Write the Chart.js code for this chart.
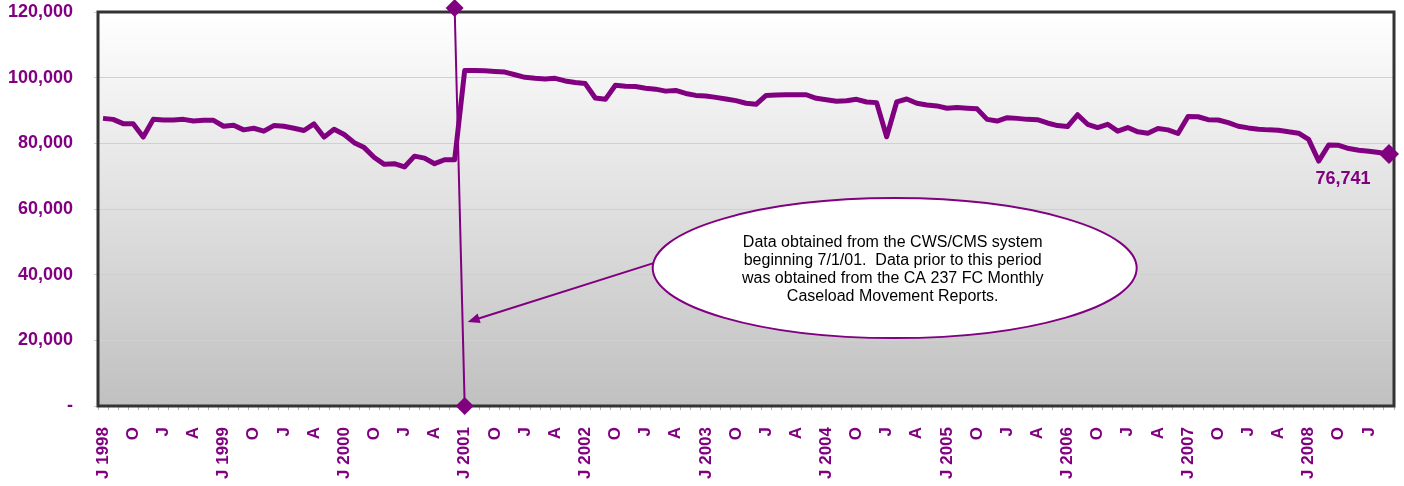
<!DOCTYPE html>
<html>
<head>
<meta charset="utf-8">
<script src="https://cdn.jsdelivr.net/npm/chart.js@4.4.0/dist/chart.umd.min.js"></script>
<style>
  html, body { margin: 0; padding: 0; background: #fff; }
  canvas { display: block; }
</style>
</head>
<body>
<canvas id="caseloadChart" width="1404" height="486"></canvas>
<script>
const purple = '#800080';
const fontFamily = '"Liberation Sans", Arial, sans-serif';

// one category per month, Jul 1998 .. Mar 2009
const monthNames = ['Jan','Feb','Mar','Apr','May','Jun','Jul','Aug','Sep','Oct','Nov','Dec'];
const months = [];
for (let i = 0; i < 129; i++) {
  const m = (6 + i) % 12;
  const yr = 1998 + Math.floor((6 + i) / 12);
  months.push(monthNames[m] + ' ' + yr);
}

// quarterly axis labels (every 3rd month)
const tickLabels = [
  'J 1998','O','J','A', 'J 1999','O','J','A', 'J 2000','O','J','A',
  'J 2001','O','J','A', 'J 2002','O','J','A', 'J 2003','O','J','A',
  'J 2004','O','J','A', 'J 2005','O','J','A', 'J 2006','O','J','A',
  'J 2007','O','J','A', 'J 2008','O','J'
];

// foster care caseload, monthly
const caseload = [
  87600, 87300, 86000, 86000, 81900, 87300, 87100, 87100, 87300, 86800, 87000, 87000,
  85200, 85500, 84100, 84600, 83700, 85400, 85200, 84600, 83900, 85900, 81900, 84300,
  82700, 80200, 78700, 75700, 73600, 73800, 72800, 76100, 75500, 73800, 75000, 75000,
  102200, 102200, 102100, 101900, 101700, 100900, 100100, 99800, 99600, 99800, 99000, 98500,
  98200, 93800, 93400, 97700, 97400, 97300, 96800, 96500, 95900, 96100, 95200, 94600,
  94400, 94000, 93500, 93000, 92200, 91900, 94600, 94700, 94800, 94800, 94800, 93700,
  93300, 92800, 93000, 93400, 92600, 92400, 82000, 92600, 93500, 92200, 91700, 91400,
  90700, 90900, 90700, 90500, 87300, 86800, 87800, 87600, 87300, 87200, 86200, 85400,
  85100, 88700, 85800, 84800, 85800, 83700, 84800, 83500, 83100, 84500, 84100, 83000,
  88200, 88100, 87200, 87100, 86300, 85200, 84700, 84300, 84100, 84000, 83500, 83100,
  81200, 74600, 79500, 79400, 78400, 77900, 77600, 77200, 76741
];

// data source change marker (CWS/CMS from 7/1/01)
const breakMonths = [months[35], months[36]];
const breakValues = [121200, 0];

const calloutLines = [
  'Data obtained from the CWS/CMS system',
  'beginning 7/1/01.  Data prior to this period',
  'was obtained from the CA 237 FC Monthly',
  'Caseload Movement Reports.'
];
const calloutCenter = { index: 78.8, value: 42000 };
const arrowTip = { index: 36, value: 25600 };

const plotFrame = {
  id: 'plotFrame',
  beforeDraw(chart) {
    const { ctx, chartArea: a } = chart;
    const g = ctx.createLinearGradient(0, a.top, 0, a.bottom);
    g.addColorStop(0, '#ffffff');
    g.addColorStop(1, '#c0c0c0');
    ctx.save();
    ctx.fillStyle = g;
    ctx.fillRect(a.left, a.top, a.right - a.left, a.bottom - a.top);
    ctx.restore();
  },
  beforeDatasetsDraw(chart) {
    const { ctx, chartArea: a } = chart;
    ctx.save();
    ctx.strokeStyle = '#333333';
    ctx.lineWidth = 3;
    ctx.strokeRect(a.left, a.top, a.right - a.left, a.bottom - a.top);
    ctx.restore();
  }
};

const callout = {
  id: 'callout',
  afterDatasetsDraw(chart) {
    const { ctx, scales: { x, y } } = chart;
    const cx = x.getPixelForValue(calloutCenter.index);
    const cy = y.getPixelForValue(calloutCenter.value);
    const rx = 242, ry = 70;
    const tx = x.getPixelForValue(arrowTip.index) + 3;
    const ty = y.getPixelForValue(arrowTip.value);
    const sx = cx - rx + 4, sy = cy - 6;

    ctx.save();
    // arrow
    ctx.strokeStyle = purple;
    ctx.fillStyle = purple;
    ctx.lineWidth = 2;
    const ang = Math.atan2(ty - sy, tx - sx);
    ctx.beginPath();
    ctx.moveTo(sx, sy);
    ctx.lineTo(tx - 9 * Math.cos(ang), ty - 9 * Math.sin(ang));
    ctx.stroke();
    ctx.beginPath();
    ctx.moveTo(tx, ty);
    ctx.lineTo(tx - 12 * Math.cos(ang) + 5 * Math.sin(ang), ty - 12 * Math.sin(ang) - 5 * Math.cos(ang));
    ctx.lineTo(tx - 12 * Math.cos(ang) - 5 * Math.sin(ang), ty - 12 * Math.sin(ang) + 5 * Math.cos(ang));
    ctx.closePath();
    ctx.fill();

    // ellipse
    ctx.beginPath();
    ctx.ellipse(cx, cy, rx, ry, 0, 0, Math.PI * 2);
    ctx.fillStyle = '#ffffff';
    ctx.fill();
    ctx.lineWidth = 2;
    ctx.stroke();

    // text
    ctx.fillStyle = '#000000';
    ctx.font = '16px ' + fontFamily;
    ctx.textAlign = 'center';
    ctx.textBaseline = 'middle';
    calloutLines.forEach((line, i) => {
      ctx.fillText(line, cx - 2, cy - 26 + i * 18.3);
    });

    // last value label
    const meta = chart.getDatasetMeta(0);
    const last = meta.data[meta.data.length - 1];
    ctx.fillStyle = purple;
    ctx.font = 'bold 18px ' + fontFamily;
    ctx.fillText(caseload[caseload.length - 1].toLocaleString('en-US'), last.x - 46, last.y + 25);
    ctx.restore();
  }
};

const ctx = document.getElementById('caseloadChart').getContext('2d');
new Chart(ctx, {
  type: 'line',
  data: {
    labels: months,
    datasets: [{
      data: caseload,
      borderColor: purple,
      backgroundColor: purple,
      borderWidth: 5,
      borderJoinStyle: 'round',
      tension: 0,
      clip: false,
      pointStyle: 'rectRot',
      pointRadius: c => c.dataIndex === caseload.length - 1 ? 10 : 0,
      pointBorderWidth: 0
    }, {
      data: breakMonths.map((m, i) => ({ x: m, y: breakValues[i] })),
      borderColor: purple,
      backgroundColor: purple,
      borderWidth: 2,
      tension: 0,
      clip: false,
      pointStyle: 'rectRot',
      pointRadius: 9,
      pointBorderWidth: 0
    }]
  },
  options: {
    responsive: false,
    animation: false,
    devicePixelRatio: 1,
    layout: { padding: { top: 12, right: 10, left: 0, bottom: 0 } },
    plugins: { legend: { display: false }, tooltip: { enabled: false } },
    scales: {
      x: {
        offset: true,
        border: { display: false },
        grid: { drawOnChartArea: false, tickLength: 4, color: '#b0b0b0', offset: true },
        ticks: {
          autoSkip: false,
          maxRotation: 90,
          minRotation: 90,
          padding: 17,
          color: purple,
          font: { family: fontFamily, size: 17, weight: 'bold' },
          callback: (v, i) => i % 3 === 0 ? tickLabels[i / 3] : ''
        },
        afterFit: s => {
          s.height = 80;
          s.paddingLeft = 0; s.paddingRight = 0; s.paddingTop = 0; s.paddingBottom = 0;
        }
      },
      y: {
        min: 0,
        max: 120000,
        border: { display: false },
        grid: { color: '#d0d0d0', tickLength: 4 },
        ticks: {
          stepSize: 20000,
          padding: 21,
          color: purple,
          font: { family: fontFamily, size: 18, weight: 'bold' },
          callback: v => v === 0 ? '-' : v.toLocaleString('en-US')
        },
        afterFit: s => {
          s.width = 98;
          s.paddingLeft = 0; s.paddingRight = 0; s.paddingTop = 0; s.paddingBottom = 0;
        }
      }
    }
  },
  plugins: [plotFrame, callout]
});
</script>
</body>
</html>
